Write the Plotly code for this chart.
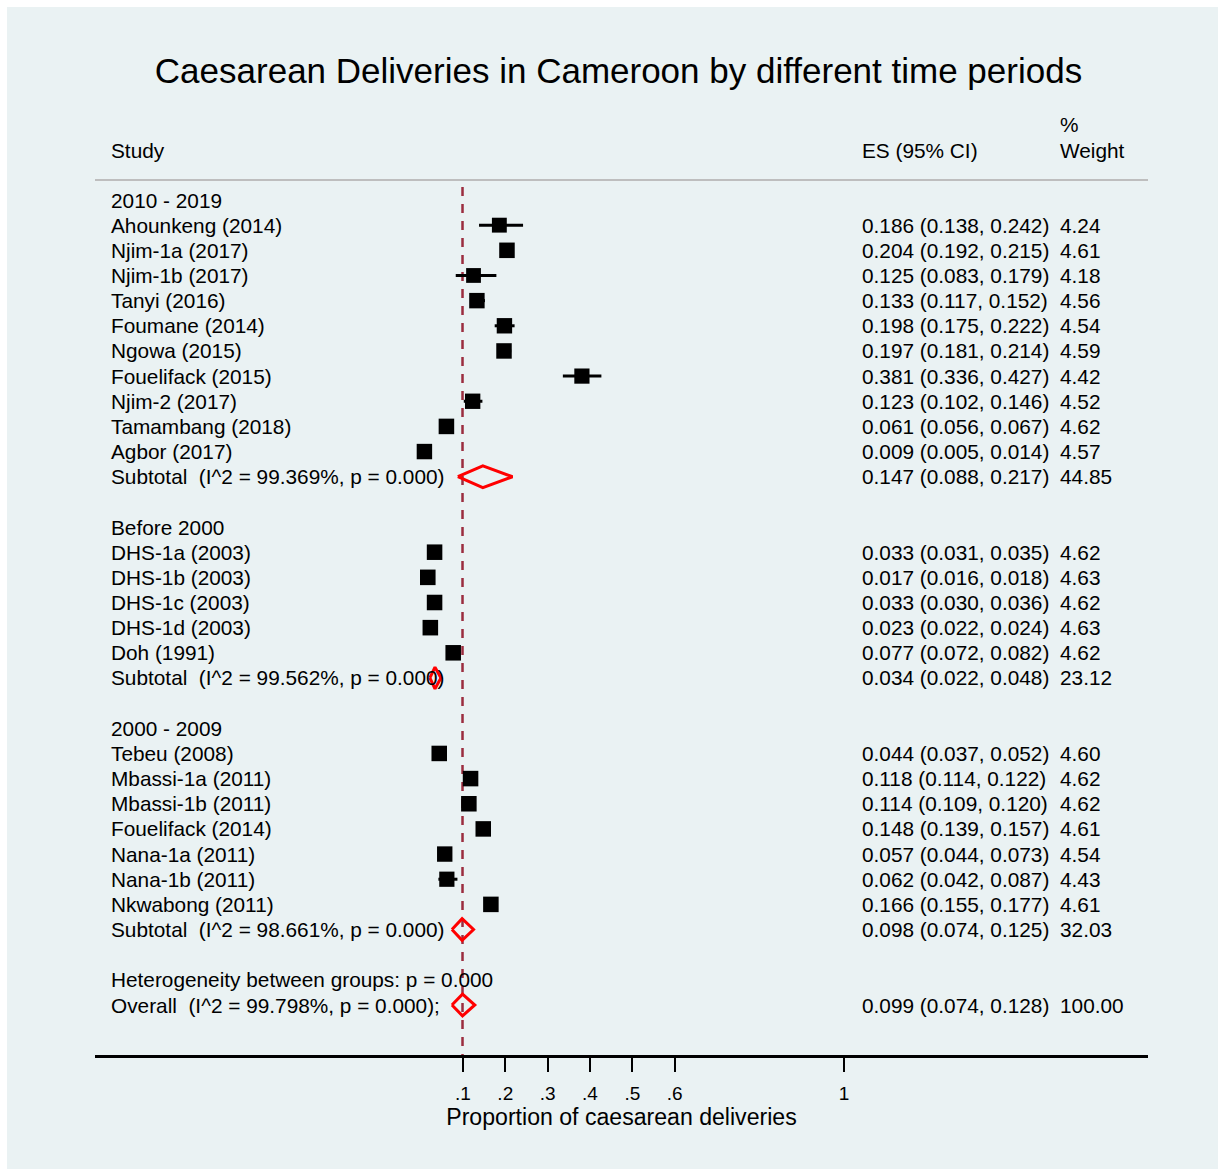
import plotly.graph_objects as go
import math

# ---------------- data ----------------
group_names = ["2010 - 2019", "Before 2000", "2000 - 2009"]

study_names = [
    "Ahounkeng (2014)", "Njim-1a (2017)", "Njim-1b (2017)", "Tanyi (2016)", "Foumane (2014)",
    "Ngowa (2015)", "Fouelifack (2015)", "Njim-2 (2017)", "Tamambang (2018)", "Agbor (2017)",
    "DHS-1a (2003)", "DHS-1b (2003)", "DHS-1c (2003)", "DHS-1d (2003)", "Doh (1991)",
    "Tebeu (2008)", "Mbassi-1a (2011)", "Mbassi-1b (2011)", "Fouelifack (2014)", "Nana-1a (2011)",
    "Nana-1b (2011)", "Nkwabong (2011)",
]
study_group = [0] * 10 + [1] * 5 + [2] * 7
es = [0.186, 0.204, 0.125, 0.133, 0.198, 0.197, 0.381, 0.123, 0.061, 0.009,
      0.033, 0.017, 0.033, 0.023, 0.077,
      0.044, 0.118, 0.114, 0.148, 0.057, 0.062, 0.166]
ci_lo = [0.138, 0.192, 0.083, 0.117, 0.175, 0.181, 0.336, 0.102, 0.056, 0.005,
         0.031, 0.016, 0.030, 0.022, 0.072,
         0.037, 0.114, 0.109, 0.139, 0.044, 0.042, 0.155]
ci_hi = [0.242, 0.215, 0.179, 0.152, 0.222, 0.214, 0.427, 0.146, 0.067, 0.014,
         0.035, 0.018, 0.036, 0.024, 0.082,
         0.052, 0.122, 0.120, 0.157, 0.073, 0.087, 0.177]
weights = [4.24, 4.61, 4.18, 4.56, 4.54, 4.59, 4.42, 4.52, 4.62, 4.57,
           4.62, 4.63, 4.62, 4.63, 4.62,
           4.60, 4.62, 4.62, 4.61, 4.54, 4.43, 4.61]

sub_es = [0.147, 0.034, 0.098]
sub_lo = [0.088, 0.022, 0.074]
sub_hi = [0.217, 0.048, 0.125]
sub_w = [44.85, 23.12, 32.03]
sub_i2 = [99.369, 99.562, 98.661]
sub_p = [0.000, 0.000, 0.000]

overall_es, overall_lo, overall_hi, overall_w = 0.099, 0.074, 0.128, 100.00
overall_i2, overall_p = 99.798, 0.000
between_p = 0.000

tick_vals = [0.1, 0.2, 0.3, 0.4, 0.5, 0.6, 1.0]
tick_text = [".1", ".2", ".3", ".4", ".5", ".6", "1"]

title_text = "Caesarean Deliveries in Cameroon by different time periods"
x_title = "Proportion of caesarean deliveries"

# ---------------- layout geometry (pixels, page coords minus page margin) ----------------
OFF = 7                      # white page margin (top / left)
W, H = 1218 - OFF, 1169 - OFF
PL, PR, PT, PB = 95 - OFF, 1148 - OFF, 100 - OFF, 1055 - OFF   # plot area edges
ROW0_PX = 200 - OFF
ROW_PX = 805 / 32
X_RANGE = [-0.769, 1.718]
Y_RANGE = [(PB - ROW0_PX) / ROW_PX, (PT - ROW0_PX) / ROW_PX]
FONT = "Liberation Sans, Arial, sans-serif"
TXT = 20.8


def px_x(px):
    """page pixel x -> paper x"""
    return (px - OFF - PL) / (PR - PL)


def row_of_px(py):
    """page pixel y -> row coordinate"""
    return (py - OFF - ROW0_PX) / ROW_PX


# ---------------- build rows ----------------
rows = []  # (kind, index)
for g in range(len(group_names)):
    rows.append(("group", g))
    for i, sg in enumerate(study_group):
        if sg == g:
            rows.append(("study", i))
    rows.append(("sub", g))
    rows.append(("blank", None))
rows.append(("het", None))
rows.append(("overall", None))

fig = go.Figure()

ci_x, ci_y = [], []
mk_x, mk_y, mk_s = [], [], []
dm_x, dm_y = [], []
DH = 0.43
annotations = []


def add_text(px, row, text):
    annotations.append(dict(
        x=px_x(px), xref="paper", y=row, yref="y", text=text, showarrow=False,
        xanchor="left", yanchor="middle", borderpad=0, borderwidth=0,
        font=dict(family=FONT, size=TXT, color="black")))


def fmt_ci(e, l, h):
    return f"{e:.3f} ({l:.3f}, {h:.3f})"


for r, (kind, idx) in enumerate(rows):
    if kind == "group":
        add_text(111, r, group_names[idx])
    elif kind == "study":
        add_text(111, r, study_names[idx])
        add_text(862, r, fmt_ci(es[idx], ci_lo[idx], ci_hi[idx]))
        add_text(1060, r, f"{weights[idx]:.2f}")
        ci_x += [ci_lo[idx], ci_hi[idx], None]
        ci_y += [r, r, None]
        mk_x.append(es[idx])
        mk_y.append(r)
        mk_s.append(15.5 * math.sqrt(weights[idx] / 4.6))
    elif kind == "sub":
        add_text(111, r, f"Subtotal  (I^2 = {sub_i2[idx]:.3f}%, p = {sub_p[idx]:.3f})")
        add_text(862, r, fmt_ci(sub_es[idx], sub_lo[idx], sub_hi[idx]))
        add_text(1060, r, f"{sub_w[idx]:.2f}")
        dm_x += [sub_lo[idx], sub_es[idx], sub_hi[idx], sub_es[idx], sub_lo[idx], None]
        dm_y += [r, r - DH, r, r + DH, r, None]
    elif kind == "het":
        add_text(111, r, f"Heterogeneity between groups: p = {between_p:.3f}")
    elif kind == "overall":
        add_text(111, r, f"Overall  (I^2 = {overall_i2:.3f}%, p = {overall_p:.3f});")
        add_text(862, r, fmt_ci(overall_es, overall_lo, overall_hi))
        add_text(1060, r, f"{overall_w:.2f}")
        dm_x += [overall_lo, overall_es, overall_hi, overall_es, overall_lo, None]
        dm_y += [r, r - DH, r, r + DH, r, None]

# column headers
add_text(111, row_of_px(150), "Study")
add_text(862, row_of_px(150), "ES (95% CI)")
add_text(1060, row_of_px(124), "%")
add_text(1060, row_of_px(150), "Weight")

# overall effect line (dashed)
fig.add_trace(go.Scatter(
    x=[overall_es, overall_es], y=[row_of_px(187), Y_RANGE[0]], mode="lines",
    line=dict(color="#9B2D3F", width=2.5, dash="9px,8px"), hoverinfo="skip", showlegend=False))

fig.add_trace(go.Scatter(
    x=ci_x, y=ci_y, mode="lines", line=dict(color="black", width=3),
    hoverinfo="skip", showlegend=False))
fig.add_trace(go.Scatter(
    x=mk_x, y=mk_y, mode="markers",
    marker=dict(symbol="square", size=mk_s, color="black", opacity=1, line=dict(width=0)),
    showlegend=False))
fig.add_trace(go.Scatter(
    x=dm_x, y=dm_y, mode="lines", line=dict(color="#FF0000", width=3),
    hoverinfo="skip", showlegend=False))

shapes = [
    # header rule
    dict(type="line", xref="paper", yref="y", x0=0, x1=1, y0=row_of_px(180), y1=row_of_px(180),
         line=dict(color="#BEBEBE", width=2)),
]

fig.update_layout(
    width=W, height=H, autosize=False,
    margin=dict(l=PL, r=W - PR, t=PT, b=H - PB, pad=0),
    paper_bgcolor="#EAF2F3", plot_bgcolor="#EAF2F3",
    font=dict(family=FONT, color="black"),
    title=dict(text=title_text, x=(618.5 - OFF) / W, xref="container", xanchor="center",
               y=1 - (71 - OFF) / H, yref="container", yanchor="middle",
               font=dict(family=FONT, size=35, color="black")),
    xaxis=dict(range=X_RANGE, tickvals=tick_vals, ticktext=tick_text, ticks="outside",
               ticklen=14, tickwidth=2, tickcolor="black", showline=True, linecolor="black",
               linewidth=2.5, showgrid=False, zeroline=False, ticklabelstandoff=5,
               tickfont=dict(family=FONT, size=19, color="black"),
               title=dict(text=x_title, standoff=1, font=dict(family=FONT, size=23.1, color="black"))),
    yaxis=dict(range=Y_RANGE, visible=False, showgrid=False, zeroline=False),
    shapes=shapes,
    annotations=annotations,
    showlegend=False,
)

fig.write_html(
    "out.html",
    post_script="document.body.style.margin='7px 0 0 7px';document.body.style.overflow='hidden';",
)
